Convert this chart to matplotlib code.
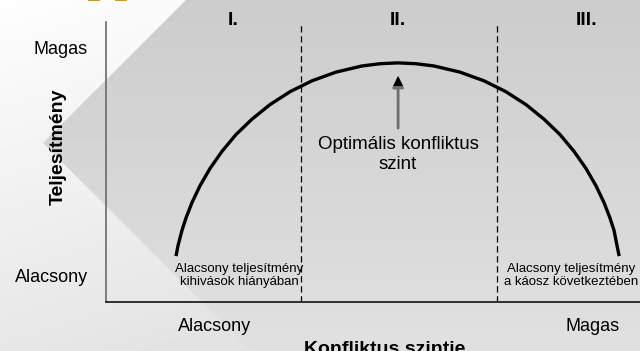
import numpy as np
import matplotlib.pyplot as plt
from matplotlib.patches import Polygon

plt.rcParams['font.family'] = ['Liberation Sans', 'DejaVu Sans']

# performance curve (x = conflict level, y = performance, 0..100)
conflict = [13.11, 13.48, 14.23, 14.98, 16.10, 17.60, 19.48, 21.72, 24.34, 27.34,
            30.71, 34.46, 38.58, 43.07, 47.94, 51.31, 54.68,
            58.05, 61.42, 66.29, 70.78, 74.90, 78.65, 82.02, 85.02, 87.64,
            89.88, 91.76, 93.26, 94.38, 95.13, 95.70, 96.10]
performance = [16.4, 20.1, 25.6, 30.0, 35.5, 41.5, 47.7, 53.8, 59.8, 65.3,
               70.5, 75.1, 79.0, 82.1, 84.3, 85.1, 85.4,
               85.1, 84.3, 82.1, 79.0, 75.1, 70.5, 65.3, 59.8, 53.8,
               47.7, 41.5, 35.5, 30.0, 25.6, 20.1, 16.4]

section_bounds = [36.5, 73.2]
section_labels = ['I.', 'II.', 'III.']
section_pos = [23.8, 54.7, 89.9]
level_labels = ['Alacsony', 'Magas']
x_level_pos = [20.4, 91.2]
y_level_pos = [9.6, 91.0]
optimum = (54.7, 85.4)

W, H = 640, 351
fig = plt.figure(figsize=(6.4, 3.51), dpi=100)

def px(x, y):
    return x / W, 1 - y / H

# background: light gradient with a gray chevron-shaped panel
bg = fig.add_axes([0, 0, 1, 1], zorder=-5)
bg.set_xlim(0, W)
bg.set_ylim(H, 0)
bg.axis('off')
yy, xx = np.mgrid[0:H, 0:W]
light = 0.995 - 0.09 * (yy / H) - 0.02 * (xx / 250.0)
bg.imshow(light, cmap='gray', vmin=0, vmax=1, extent=[0, W, H, 0], aspect='auto')
gray = 0.80 + 0.08 * (yy / H)
im = bg.imshow(gray, cmap='gray', vmin=0, vmax=1, extent=[0, W, H, 0], aspect='auto')
chev = Polygon([(186, 0), (43, 143), (251, H), (W, H), (W, 0)], closed=True,
               facecolor='none', edgecolor='none', transform=bg.transData)
bg.add_patch(chev)
im.set_clip_path(chev)
# small gold fragments of the logo at the top edge
bg.plot([88, 100], [0.3, 0.3], color='#b8860b', lw=1.2, solid_capstyle='butt')
bg.plot([115, 127], [0.3, 0.3], color='#b8860b', lw=1.2, solid_capstyle='butt')

ax = fig.add_axes([106 / W, (H - 302) / H, (W - 106) / W, (302 - 22) / H])
ax.set_facecolor('none')
ax.set_xlim(0, 100)
ax.set_ylim(0, 100)
for s in ['top', 'right']:
    ax.spines[s].set_visible(False)
ax.spines['left'].set_color('#6a6a6a')
ax.spines['left'].set_linewidth(1.2)
ax.spines['bottom'].set_color('#222222')
ax.spines['bottom'].set_linewidth(1.3)

ax.plot(conflict, performance, color='black', lw=2.4, solid_capstyle='butt',
        solid_joinstyle='round')
for b in section_bounds:
    ax.axvline(b, color='black', lw=0.9, ls=(0, (5, 3)))

ax.set_xticks(x_level_pos)
ax.set_xticklabels(level_labels, fontsize=13)
ax.set_yticks(y_level_pos)
ax.set_yticklabels(level_labels, fontsize=13)
ax.tick_params(axis='x', length=0, pad=11.5)
ax.tick_params(axis='y', length=0, pad=13)

for lab, xp in zip(section_labels, section_pos):
    ax.text(xp, 100.7, lab, ha='center', va='center', fontsize=14,
            fontweight='bold', clip_on=False)

ax.annotate('', xy=(optimum[0], 80.7), xytext=(optimum[0], 62.1),
            arrowprops=dict(arrowstyle='-|>', color='#6e6e6e', lw=2,
                            mutation_scale=16, shrinkA=0, shrinkB=0))
ax.annotate('', xy=(optimum[0], 80.7), xytext=(optimum[0], 77.5),
            arrowprops=dict(arrowstyle='-|>', color='black', lw=0.5,
                            mutation_scale=16, shrinkA=0, shrinkB=0))
ax.text(optimum[0], 59.3, 'Optimális konfliktus\nszint', ha='center', va='top',
        fontsize=13.5)

ax.text(25.0, 13.9, 'Alacsony teljesítmény\nkihivások hiányában', ha='center',
        va='top', fontsize=9.5, linespacing=1.1)
ax.text(87.1, 13.9, 'Alacsony teljesítmény\na káosz következtében', ha='center',
        va='top', fontsize=9.5, linespacing=1.1, clip_on=False)

x, y = px(58, 146.5)
fig.text(x, y, 'Teljesítmény', rotation=90, ha='center', va='center',
         fontsize=14, fontweight='bold')
x, y = px(385, 354)
fig.text(x, y, 'Konfliktus szintje', ha='center', va='baseline',
         fontsize=14, fontweight='bold')

fig.savefig('out.png', dpi=100)
